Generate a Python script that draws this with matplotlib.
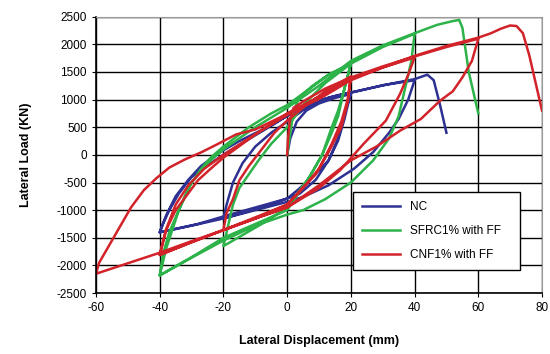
import matplotlib
matplotlib.use('Agg')
import matplotlib.pyplot as plt

plt.rcParams['font.family'] = ['Liberation Sans', 'DejaVu Sans']
plt.rcParams['axes.unicode_minus'] = False

# NC hysteresis path (displacement mm, load kN)
nc_x = [0, 1, 3, 6, 10, 15, 20,
        18, 16, 13, 9, 4, 0, -8, -14, -20,
        -19, -17, -14, -10, -5, 0, 6, 12, 20,
        18, 16, 13, 8, 3, 0, -8, -18, -28, -40,
        -39, -37, -34, -30, -24, -19, -11, -4, 0, 7, 14, 22, 30, 40,
        38, 35, 32, 27, 21, 13, 5, 0, -10, -20, -30, -40,
        -38, -35, -31, -27, -21, -15, -8, 0, 8, 16, 24, 32, 40, 44, 46, 48, 50]
nc_y = [0, 300, 600, 800, 930, 1030, 1100,
        750, 300, -100, -450, -700, -790, -950, -1050, -1150,
        -900, -500, -150, 150, 400, 600, 850, 1000, 1130,
        650, 260, -100, -400, -650, -790, -920, -1080, -1250, -1400,
        -1250, -1000, -700, -400, -150, 40, 320, 560, 710, 930, 1050, 1150, 1260, 1350,
        1000, 650, 400, 50, -250, -550, -760, -850, -1000, -1150, -1280, -1400,
        -1100, -750, -450, -200, 50, 250, 450, 700, 950, 1080, 1180, 1280, 1370, 1450, 1350, 900, 400]

# SFRC1% with FF
sf_x = [0, 1, 2, 4, 8, 13, 20,
        18, 16, 14, 11, 7, 0, -8, -14, -20,
        -19, -18, -17, -15, -12, -9, -5, 0, 5, 12, 20,
        18, 16, 14, 11, 7, 0, -10, -20, -30, -40,
        -39.5, -39, -37, -34, -31, -27, -24, -20, -12, -5, 0, 6, 13, 20, 30, 40,
        39, 37, 35, 32, 27, 20, 12, 5, 0, -10, -20, -30, -40,
        -38, -34, -30, -25, -20, -10, 0, 10, 20, 30, 40, 47, 52, 54, 55, 57, 60]
sf_y = [0, 400, 800, 1050, 1250, 1450, 1650,
        1200, 800, 500, 0, -400, -950, -1250, -1450, -1650,
        -1400, -1150, -900, -600, -350, -100, 200, 500, 900, 1300, 1650,
        1200, 700, 400, 0, -400, -1000, -1250, -1500, -1850, -2180,
        -2000, -1800, -1400, -1000, -600, -250, -50, 150, 500, 750, 900, 1150, 1450, 1650, 1950, 2190,
        1700, 1200, 700, 300, -100, -500, -800, -1000, -1080, -1280, -1550, -1860, -2180,
        -1700, -1000, -500, -150, 100, 500, 850, 1250, 1700, 1980, 2200, 2350, 2420, 2440, 2300, 1500, 750]

# CNF1% with FF
cn_x = [0, 0.3, 0.8, 2, 6, 12, 20,
        19, 17, 14, 10, 5, 0, -10, -20,
        -19, -17, -15, -12, -8, -4, 0, 6, 12, 20,
        19, 17, 13, 9, 4, 0, -10, -20, -30, -40,
        -38, -35, -32, -28, -24, -20, -14, -8, 0, 10, 20, 30, 40,
        38, 35.5, 31, 24, 16.6, 10, 0, -10, -20, -30, -40,
        -38, -35, -31, -26, -20, -12, -5, 0, 10, 20, 30, 40, 50, 60,
        58, 55, 52, 48, 42, 35.5, 28, 20, 10, 0, -10, -20, -30, -40, -50, -60,
        -59, -57, -55, -52, -49, -45, -41, -37, -32, -27, -22, -16, -10, 0, 10, 20,
        30, 40, 50, 60, 64, 67, 70, 72, 74, 76, 78, 80]
cn_y = [0, 300, 600, 850, 1000, 1200, 1400,
        1000, 600, 200, -250, -600, -900, -1150, -1360,
        -1050, -800, -460, -200, 100, 400, 620, 900, 1150, 1420,
        950, 500, 50, -350, -650, -900, -1130, -1360, -1580, -1810,
        -1360, -1000, -770, -460, -250, -50, 200, 450, 720, 1050, 1380, 1580, 1760,
        1450, 1110, 620, 200, -280, -600, -950, -1150, -1360, -1580, -1810,
        -1350, -900, -550, -250, 0, 300, 550, 750, 1050, 1400, 1600, 1780, 1950, 2100,
        1700, 1400, 1150, 980, 650, 440, 150, -100, -550, -950, -1150, -1360, -1560, -1770, -1960, -2150,
        -1950, -1750, -1550, -1250, -950, -640, -420, -230, -80, 45, 190, 370, 460, 740, 1010, 1350,
        1580, 1790, 1970, 2120, 2200, 2280, 2340, 2330, 2200, 1800, 1300, 800]

fig = plt.figure(figsize=(5.5, 3.54), dpi=100)
ax = fig.add_axes([0.1745, 0.172, 0.811, 0.781])

ax.plot(nc_x, nc_y, color='#2e3192', lw=1.8, label='NC')
ax.plot(sf_x, sf_y, color='#2db34a', lw=1.8, label='SFRC1% with FF')
ax.plot(cn_x, cn_y, color='#d2232a', lw=1.8, label='CNF1% with FF')

ax.set_xlim(-60, 80)
ax.set_ylim(-2500, 2500)
ax.set_xticks(range(-60, 81, 20))
ax.set_yticks(range(-2500, 2501, 500))
ax.grid(True, color='black', lw=1)
ax.set_axisbelow(True)
ax.tick_params(labelsize=8.5, direction='out', length=3, colors='black')
for s in ['top', 'right']:
    ax.spines[s].set_color('#999999')
ax.spines['left'].set_linewidth(1.2)
ax.spines['bottom'].set_linewidth(1.2)

ax.set_xlabel('Lateral Displacement (mm)', fontsize=9, fontweight='bold', labelpad=15)
ax.set_ylabel('Lateral Load (KN)', fontsize=9, fontweight='bold', labelpad=18)

leg = ax.legend(loc='lower left', bbox_to_anchor=(0.576, 0.083, 0.374, 0.29), mode='expand',
                borderaxespad=0, fontsize=8.5, frameon=True, fancybox=False, framealpha=1,
                handlelength=3.2, labelspacing=1.0, borderpad=0.8)
leg.get_frame().set_edgecolor('black')
leg.get_frame().set_linewidth(1)

plt.savefig('out.png', dpi=100)
plt.close()
